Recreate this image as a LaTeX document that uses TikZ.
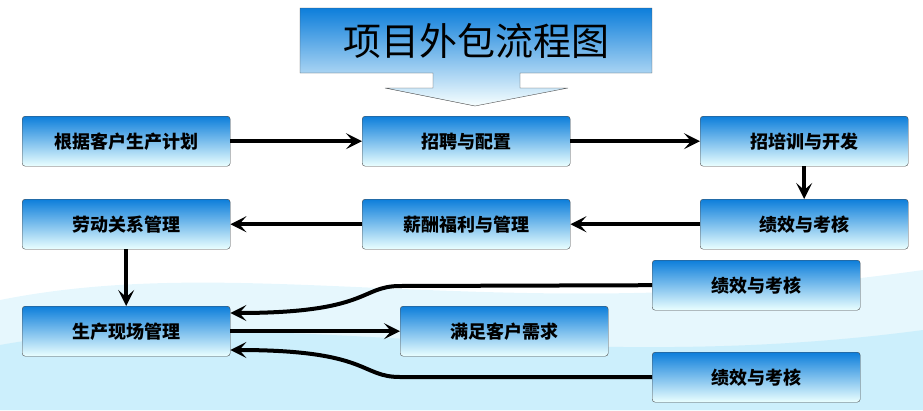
\documentclass[tikz,border=0pt]{standalone}
\usepackage{fontspec}
\newfontfamily\cjk{Noto Sans CJK SC}
\usetikzlibrary{arrows.meta}
\tikzstyle{every node}=[font=\cjk]
\tikzstyle{stepbox}=[draw=black!70,rounded corners=3pt,minimum width=208pt,minimum height=50pt,
  top color=blue!45!cyan!85!black!95,bottom color=cyan!8,font=\cjk\bfseries\fontsize{18}{18}\selectfont,anchor=north west]
\tikzstyle{flow}=[line width=4pt,-{Stealth[length=16pt,width=16pt,inset=7pt]}]

\begin{document}
\begin{tikzpicture}[x=1pt,y=-1pt]
  \useasboundingbox (0,0) rectangle (923,410);
  % background wave
  \fill[cyan!10] (0,410) -- (0,300) .. controls (250,250) and (500,330) .. (923,270) -- (923,410) -- cycle;
  \fill[cyan!20] (0,410) -- (0,345) .. controls (250,300) and (550,380) .. (923,330) -- (923,410) -- cycle;
  % title
  \draw[black!70,top color=blue!45!cyan!85!black!95,bottom color=cyan!3]
    (300,8) -- (652,8) -- (652,73) -- (520,73) -- (520,88) -- (568,88) -- (475,106)
    -- (385,88) -- (433,88) -- (433,73) -- (300,73) -- cycle;
  \node[font=\cjk\fontsize{38}{38}\selectfont] (title) at (476,41) {项目外包流程图};
  % boxes
  \node[stepbox] (plan) at (22,116) {根据客户生产计划};
  \node[stepbox] (hire) at (362,116) {招聘与配置};
  \node[stepbox] (train) at (700,116) {招培训与开发};
  \node[stepbox] (perf) at (700,199) {绩效与考核};
  \node[stepbox] (pay) at (362,199) {薪酬福利与管理};
  \node[stepbox] (labor) at (22,199) {劳动关系管理};
  \node[stepbox] (site) at (22,306) {生产现场管理};
  \node[stepbox] (need) at (400,306) {满足客户需求};
  \node[stepbox] (perfa) at (652,260) {绩效与考核};
  \node[stepbox] (perfb) at (652,352) {绩效与考核};
  % arrows
  \draw[flow] (plan) -- (hire);
  \draw[flow] (hire) -- (train);
  \draw[flow] (train) -- (perf);
  \draw[flow] (perf) -- (pay);
  \draw[flow] (pay) -- (labor);
  \draw[flow] (labor) -- (site);
  \draw[flow] (site) -- (need);
  \draw[flow] (perfa.west) -- (400,286) .. controls (360,286) and (370,313) .. (site.east |- 0,313);
  \draw[flow] (perfb.west) -- (400,377) .. controls (360,377) and (370,350) .. (site.east |- 0,350);
\end{tikzpicture}
\end{document}
